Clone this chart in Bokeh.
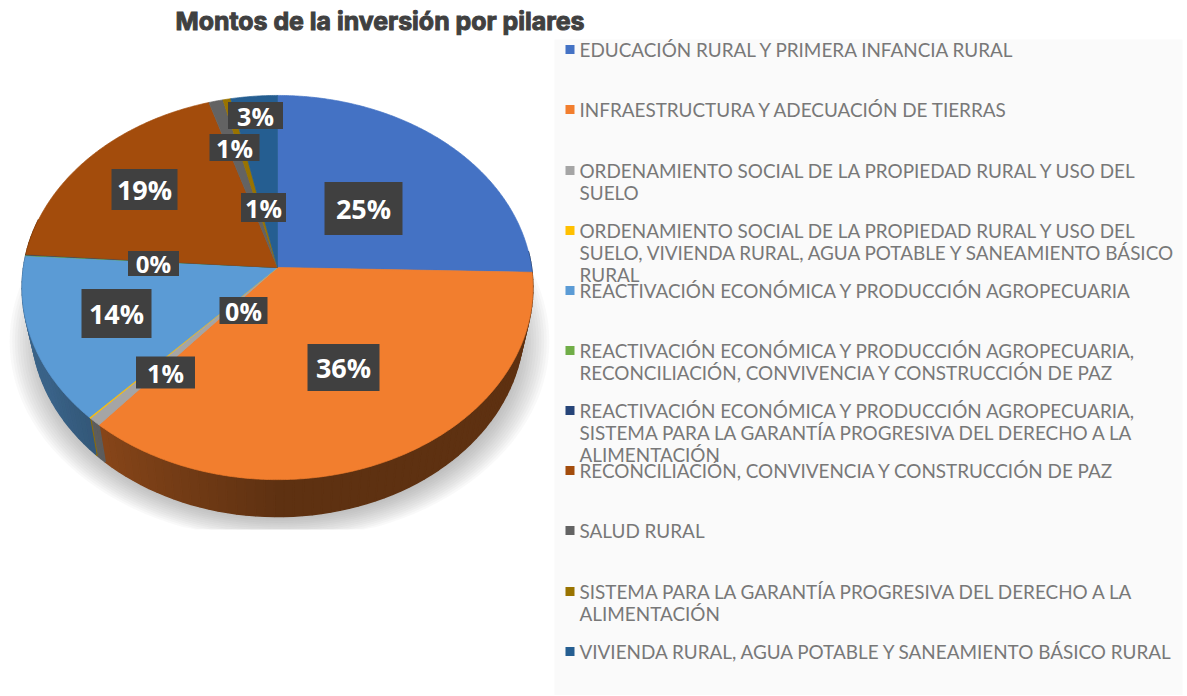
import math
from bokeh.plotting import figure
from bokeh.models import Range1d, ColumnDataSource
from bokeh.core.properties import value
from bokeh.embed import file_html
from bokeh.resources import INLINE

TITLE = "Montos de la inversión por pilares"
CATEGORIES = [
    "EDUCACIÓN RURAL Y PRIMERA INFANCIA RURAL",
    "INFRAESTRUCTURA Y ADECUACIÓN DE TIERRAS",
    "ORDENAMIENTO SOCIAL DE LA PROPIEDAD RURAL Y USO DEL\nSUELO",
    "ORDENAMIENTO SOCIAL DE LA PROPIEDAD RURAL Y USO DEL\nSUELO, VIVIENDA RURAL, AGUA POTABLE Y SANEAMIENTO BÁSICO\nRURAL",
    "REACTIVACIÓN ECONÓMICA Y PRODUCCIÓN AGROPECUARIA",
    "REACTIVACIÓN ECONÓMICA Y PRODUCCIÓN AGROPECUARIA,\nRECONCILIACIÓN, CONVIVENCIA Y CONSTRUCCIÓN DE PAZ",
    "REACTIVACIÓN ECONÓMICA Y PRODUCCIÓN AGROPECUARIA,\nSISTEMA PARA LA GARANTÍA PROGRESIVA DEL DERECHO A LA\nALIMENTACIÓN",
    "RECONCILIACIÓN, CONVIVENCIA Y CONSTRUCCIÓN DE PAZ",
    "SALUD RURAL",
    "SISTEMA PARA LA GARANTÍA PROGRESIVA DEL DERECHO A LA\nALIMENTACIÓN",
    "VIVIENDA RURAL, AGUA POTABLE Y SANEAMIENTO BÁSICO RURAL",
]
VALUES = [25.4, 35.8, 0.7, 0.1, 14.0, 0.05, 0.05, 19.1, 1.0, 0.55, 3.25]
COLORS = ["#4472c4", "#f27e2e", "#a5a5a5", "#ffc000", "#5b9bd5", "#70ad47",
          "#264478", "#a34c0c", "#636363", "#997300", "#255e91"]

# layout of the picture (page pixels), not data
CX, CY, A, B, K = 278, 268, 190, 254, 0.1043
DEPTH, BOTTOM_SCALE = 37, 0.965
LEGEND_Y = [50, 110, 171, 231, 291, 351, 411, 471, 531, 592, 652]
LABEL_SLOT = {0: (364, 209, 78, 53, 27), 1: (344, 368, 72, 47, 27), 2: (166, 373, 59, 32, 25),
              3: (244, 311, 48, 27, 25), 4: (117, 314, 70, 49, 27), 5: (154, 264, 51, 25, 24),
              7: (145, 190, 66, 41, 27), 8: (235, 148, 50, 27, 25), 9: (264, 208, 45, 29, 25),
              10: (256, 116, 55, 27, 25)}


def top_rim(deg):
    t = math.radians(deg)
    u, v = math.sin(t), math.cos(t)
    w = 1 + K * v
    return CX + B * u / w, CY - A * v / w


def bottom_rim(deg):
    x, y = top_rim(deg)
    return CX + (x - CX) * BOTTOM_SCALE, y + DEPTH


def shade(color, f):
    r, g, b = (int(color[i:i + 2], 16) for i in (1, 3, 5))
    return "#%02x%02x%02x" % (int(r * f), int(g * f), int(b * f))


def frange(a, b, step):
    n = max(1, int(math.ceil((b - a) / step)))
    return [a + (b - a) * i / n for i in range(n + 1)]


p = figure(width=1186, height=695, output_backend="svg", toolbar_location=None,
           x_range=Range1d(1, 1187), y_range=Range1d(696, 1), min_border=0,
           outline_line_color=None, background_fill_color="white", border_fill_color="white")
p.axis.visible = False
p.grid.visible = False

# legend panel
p.quad(left=[555], right=[1183], top=[40], bottom=[696], fill_color="#fafafa", line_color=None)

# soft shadow below the pie, cut straight at the bottom
for i in range(16):
    s = 1.03 - i * 0.01
    xs, ys = [], []
    for d in range(0, 360, 3):
        t = math.radians(d)
        xs.append(CX + 2 + 262 * s * math.sin(t))
        ys.append(min(530, 342 + 193 * s * math.cos(t)))
    p.patch(xs, ys, fill_color="#787878", fill_alpha=0.042, line_color=None)

# slices
total = sum(VALUES)
angles = [0.0]
for v in VALUES:
    angles.append(angles[-1] + 360 * v / total)

wx, wy, wc = [], [], []
for i, col in enumerate(COLORS):
    a0, a1 = max(angles[i], 85), min(angles[i + 1], 285)
    if a1 <= a0:
        continue
    ds = frange(a0, a1, 2)
    for d0, d1 in zip(ds[:-1], ds[1:]):
        mid = (d0 + d1) / 2
        f = 0.39 + 0.25 * min(1, max(0, (mid - 180) / 60))
        x0, y0 = top_rim(d0)
        x1, y1 = top_rim(d1)
        x2, y2 = bottom_rim(d1)
        x3, y3 = bottom_rim(d0)
        wx.append([x0, x1, x2, x3])
        wy.append([y0, y1, y2, y3])
        wc.append(shade(col, f))
p.patches(wx, wy, fill_color=wc, line_color=wc, line_width=1.5)

for i, col in enumerate(COLORS):
    ds = frange(angles[i], angles[i + 1], 0.5)
    pts = [top_rim(d) for d in ds]
    p.patch([CX] + [q[0] for q in pts], [CY] + [q[1] for q in pts],
            fill_color=col, line_color=col, line_width=0.7)

# data labels
idx = list(LABEL_SLOT)
lab = ColumnDataSource(dict(
    x=[LABEL_SLOT[i][0] for i in idx], y=[LABEL_SLOT[i][1] for i in idx],
    w=[LABEL_SLOT[i][2] for i in idx], h=[LABEL_SLOT[i][3] for i in idx],
    fs=[f"{LABEL_SLOT[i][4]}px" for i in idx],
    t=[f"{round(VALUES[i])}%" for i in idx]))
p.rect(x="x", y="y", width="w", height="h", source=lab, fill_color="#404040", line_color=None)
p.text(x="x", y="y", text="t", source=lab, text_color="white", text_font=value("Open Sans"),
       text_font_style="bold", text_font_size="fs", text_align="center", text_baseline="middle")

# legend
p.rect(x=[570.5] * len(COLORS), y=LEGEND_Y, width=9, height=9, fill_color=COLORS, line_color=None)
lx, ly, lt = [], [], []
for y, name in zip(LEGEND_Y, CATEGORIES):
    for j, line in enumerate(name.split("\n")):
        lx.append(580)
        ly.append(y + j * 22)
        lt.append(line)
p.text(x=lx, y=ly, text=lt, text_color="#787878", text_font=value("Lato"),
       text_font_size="18.9px", text_align="left", text_baseline="middle")

p.text(x=[176], y=[21], text=[TITLE], text_color="#404040", text_font=value("Inter"),
       text_font_style="bold", text_font_size="24.9px", text_align="left", text_baseline="middle",
       text_outline_color="#404040")

open("out.html", "w").write(file_html(p, INLINE))
